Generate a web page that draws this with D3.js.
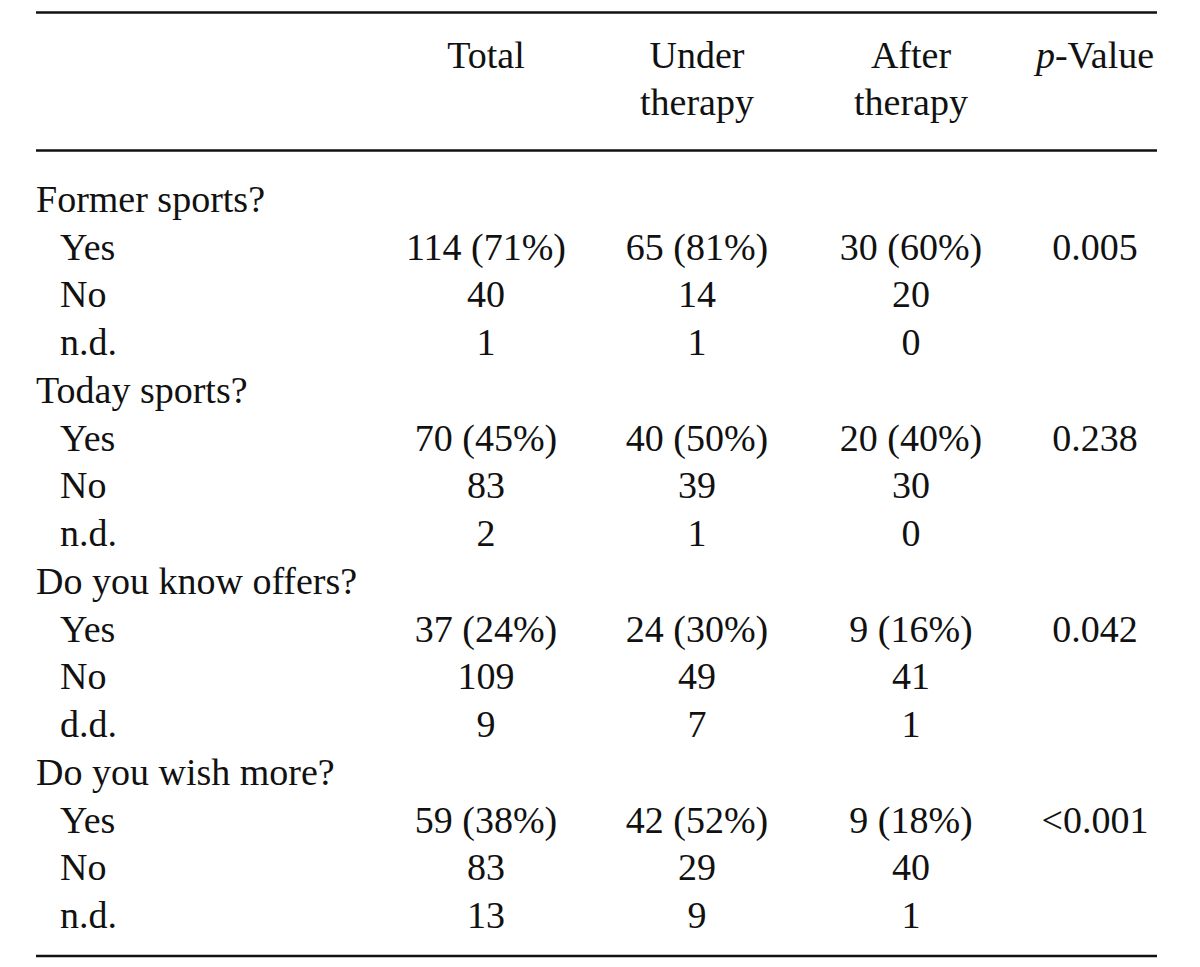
<!DOCTYPE html>
<html>
<head>
<meta charset="utf-8">
<script src="https://cdn.jsdelivr.net/npm/d3@7"></script>
<style>
  html, body { margin: 0; padding: 0; background: #fff; }
</style>
</head>
<body>
<div id="chart"></div>
<script>
// ---- data ----
const columnHeads = [["Total"], ["Under", "therapy"], ["After", "therapy"], ["p-Value"]];
const groups = ["Former sports?", "Today sports?", "Do you know offers?", "Do you wish more?"];
const subLabels = [["Yes", "No", "n.d."], ["Yes", "No", "n.d."], ["Yes", "No", "d.d."], ["Yes", "No", "n.d."]];
const totalVals = [["114 (71%)", "40", "1"], ["70 (45%)", "83", "2"], ["37 (24%)", "109", "9"], ["59 (38%)", "83", "13"]];
const underVals = [["65 (81%)", "14", "1"], ["40 (50%)", "39", "1"], ["24 (30%)", "49", "7"], ["42 (52%)", "29", "9"]];
const afterVals = [["30 (60%)", "20", "0"], ["20 (40%)", "30", "0"], ["9 (16%)", "41", "1"], ["9 (18%)", "40", "1"]];
const pValues = ["0.005", "0.238", "0.042", "<0.001"];

// ---- layout ----
const W = 1200, H = 967;
const FONT = '"Liberation Serif", "Times New Roman", serif';
const fontSize = 38, sx = 1.0;
const svg = d3.select("#chart").append("svg").attr("width", W).attr("height", H);

const colX = d3.scaleOrdinal().domain([0, 1, 2, 3]).range([486, 697, 911, 1095]);
const rowY = d3.scaleLinear().domain([0, 15]).range([212, 928]);

function put(g, x, y, txt, anchor) {
  return g.append("text")
    .attr("transform", `translate(${x},${y}) scale(${sx},1)`)
    .attr("text-anchor", anchor)
    .style("font-family", FONT)
    .style("font-size", fontSize + "px")
    .style("fill", "#111")
    .text(txt);
}

// rules
const lineX = [36, 1157];
[12.5, 150.5, 956].forEach(y => {
  svg.append("line").attr("x1", lineX[0]).attr("x2", lineX[1]).attr("y1", y).attr("y2", y)
    .attr("stroke", "#111").attr("stroke-width", 2.6);
});

// header
const hdr = svg.append("g");
columnHeads.forEach((lines, i) => {
  lines.forEach((ln, j) => {
    const y = 68 + j * 47;
    if (ln === "p-Value") {
      const t = put(hdr, colX(i), y, "", "middle");
      t.append("tspan").style("font-style", "italic").text("p");
      t.append("tspan").text("-Value");
    } else {
      put(hdr, colX(i), y, ln, "middle");
    }
  });
});

// body
const body = svg.append("g");
let r = 0;
groups.forEach((gName, gi) => {
  put(body, 36, rowY(r), gName, "start");
  r++;
  subLabels[gi].forEach((lab, k) => {
    const y = rowY(r);
    put(body, 60, y, lab, "start");
    put(body, colX(0), y, totalVals[gi][k], "middle");
    put(body, colX(1), y, underVals[gi][k], "middle");
    put(body, colX(2), y, afterVals[gi][k], "middle");
    if (k === 0) put(body, colX(3), y, pValues[gi], "middle");
    r++;
  });
});
</script>
</body>
</html>
